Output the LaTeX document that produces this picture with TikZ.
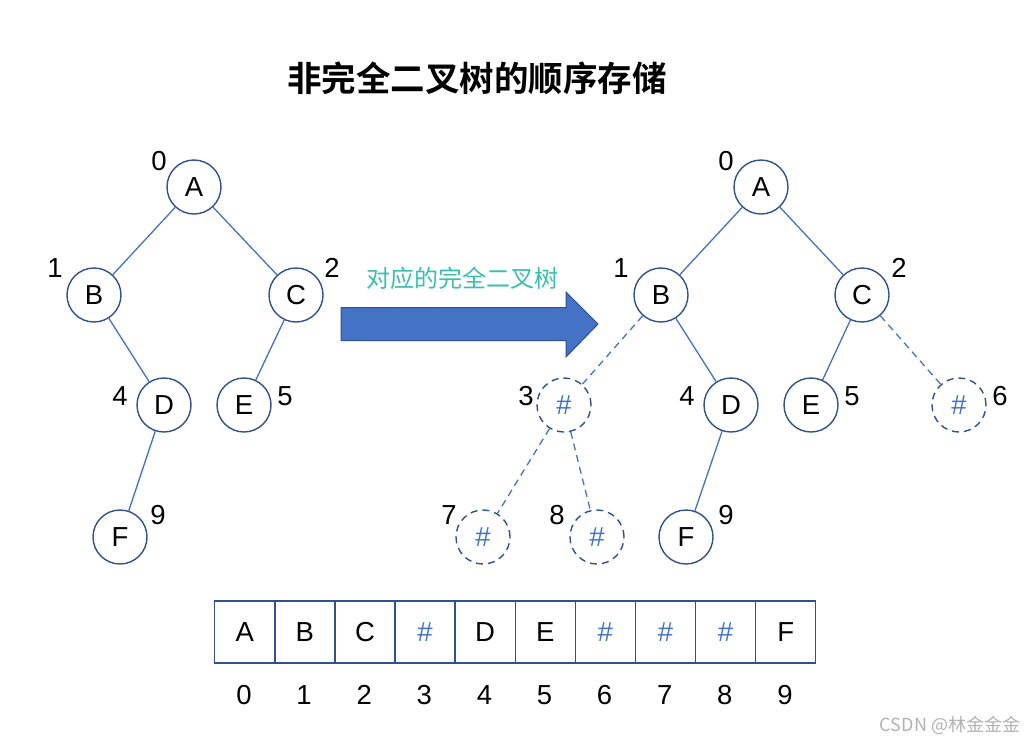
\documentclass[tikz,border=0pt]{standalone}
\usepackage{fontspec}
\setmainfont{Liberation Sans}
\newfontfamily\cjk{Noto Sans CJK SC}
\newfontfamily\cjkb{Noto Sans CJK SC Bold}
\definecolor{lineblue}{HTML}{4472C4}
\definecolor{darkblue}{HTML}{2F528F}
\definecolor{tealtxt}{HTML}{3BBFAD}
\begin{document}
\begin{tikzpicture}[x=1pt,y=-1pt,
  tnode/.style={circle,draw=darkblue,line width=1.4pt,fill=white,minimum size=54pt,inner sep=0pt,font=\fontsize{27.5}{27.5}\selectfont},
  hnode/.style={tnode,dash pattern=on 7pt off 5pt,text=lineblue},
  num/.style={font=\fontsize{27.5}{27.5}\selectfont,inner sep=0pt},
  edge/.style={draw=lineblue,line width=1.3pt},
  dedge/.style={edge,dash pattern=on 7pt off 5pt},
  cell/.style={draw=darkblue,line width=1.4pt,minimum width=60.1pt,minimum height=62pt,inner sep=0pt,font=\fontsize{27.5}{27.5}\selectfont,anchor=west}
]
\path[fill=white] (0,0) rectangle (1031,745);
\useasboundingbox (0,0) rectangle (1031,745);

\node[font=\cjkb\fontsize{34.5}{34.5}\selectfont] (title) at (477,78) {非完全二叉树的顺序存储};

% left tree
\node[tnode] (LA) at (194,187) {A};
\node[tnode] (LB) at (94,295) {B};
\node[tnode] (LC) at (296,295) {C};
\node[tnode] (LD) at (164,405) {D};
\node[tnode] (LE) at (244,405) {E};
\node[tnode] (LF) at (120,537) {F};
\draw[edge] (LA) -- (LB);
\draw[edge] (LA) -- (LC);
\draw[edge] (LB) -- (LD);
\draw[edge] (LC) -- (LE);
\draw[edge] (LD) -- (LF);
\node[num] (l0) at (159,161) {0};
\node[num] (l1) at (55,268) {1};
\node[num] (l2) at (332,268) {2};
\node[num] (l4) at (120,396) {4};
\node[num] (l5) at (285,396) {5};
\node[num] (l9) at (158,515) {9};

% block arrow
\draw[darkblue,line width=1pt,fill=lineblue,line join=miter]
  (341,307.5) -- (566,307.5) -- (566,292) -- (598,324) -- (566,357) -- (566,340.5) -- (341,340.5) -- cycle;
\node[font=\cjk\fontsize{24}{24}\selectfont,text=tealtxt] (albl) at (462,278) {对应的完全二叉树};

% right tree
\node[tnode] (RA) at (761,187) {A};
\node[tnode] (RB) at (661,295) {B};
\node[tnode] (RC) at (862,295) {C};
\node[hnode] (R3) at (564,405) {\#};
\node[tnode] (RD) at (731,405) {D};
\node[tnode] (RE) at (811,405) {E};
\node[hnode] (R6) at (959,405) {\#};
\node[hnode] (R7) at (483,537) {\#};
\node[hnode] (R8) at (597,537) {\#};
\node[tnode] (RF) at (686,537) {F};
\draw[edge] (RA) -- (RB);
\draw[edge] (RA) -- (RC);
\draw[dedge] (RB) -- (R3);
\draw[edge] (RB) -- (RD);
\draw[edge] (RC) -- (RE);
\draw[dedge] (RC) -- (R6);
\draw[dedge] (R3) -- (R7);
\draw[dedge] (R3) -- (R8);
\draw[edge] (RD) -- (RF);
\node[num] (r0) at (726,161) {0};
\node[num] (r1) at (621,268) {1};
\node[num] (r2) at (899,268) {2};
\node[num] (r3) at (526,396) {3};
\node[num] (r4) at (687,396) {4};
\node[num] (r5) at (852,396) {5};
\node[num] (r6) at (1000,396) {6};
\node[num] (r7) at (449,515) {7};
\node[num] (r8) at (557,515) {8};
\node[num] (r9) at (726,515) {9};

% array
\foreach \t/\c [count=\i from 0] in {A/black,B/black,C/black,\#/lineblue,D/black,E/black,\#/lineblue,\#/lineblue,\#/lineblue,F/black}{
  \node[cell,text=\c] (c\i) at ({214+60.1*\i},632) {\t};
  \node[num] (n\i) at ({244+60.1*\i},695) {\i};
}

\node[font=\cjk\fontsize{18}{18}\selectfont,text=black!30] (wm) at (950,725) {CSDN @林金金金};
\end{tikzpicture}
\end{document}
